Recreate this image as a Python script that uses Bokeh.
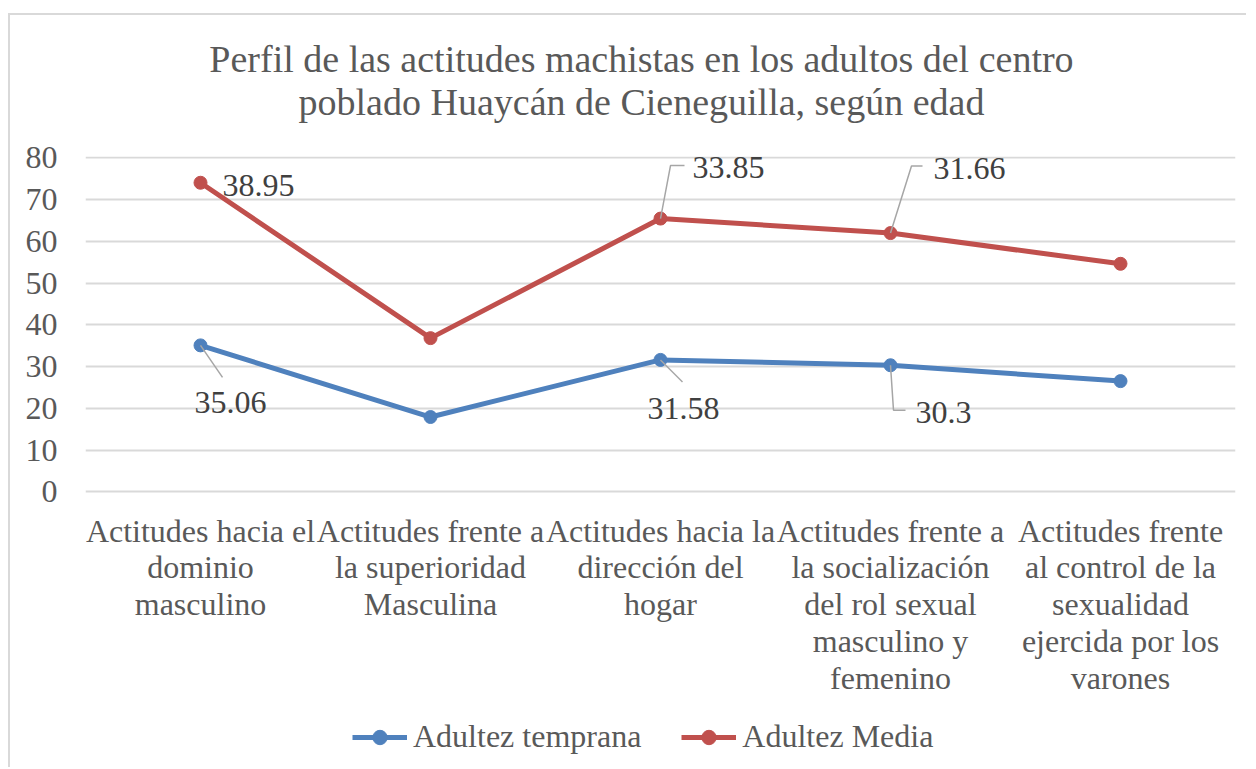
from bokeh.plotting import figure
from bokeh.models import Range1d, FixedTicker, Label, Legend, LegendItem, LinearAxis
from bokeh.embed import file_html
from bokeh.resources import INLINE

# ---------------- data ----------------
title_lines = ["Perfil de las actitudes machistas en los adultos del centro",
               "poblado Huaycán de Cieneguilla, según edad"]
category_lines = [
    ["Actitudes hacia el", "dominio", "masculino"],
    ["Actitudes frente a", "la superioridad", "Masculina"],
    ["Actitudes hacia la", "dirección del", "hogar"],
    ["Actitudes frente a", "la socialización", "del rol sexual", "masculino y", "femenino"],
    ["Actitudes frente", "al control de la", "sexualidad", "ejercida por los", "varones"],
]
series_names = ["Adultez temprana", "Adultez Media"]
temprana = [35.06, 17.9, 31.58, 30.3, 26.5]
media = [38.95, 18.9, 33.85, 31.66, 28.1]
y_ticks = [0, 10, 20, 30, 40, 50, 60, 70, 80]

# stacked line chart (Excel "stacked line")
media_stacked = [a + b for a, b in zip(temprana, media)]
xs = list(range(1, len(category_lines) + 1))

# ---------------- layout ----------------
W, H = 1238, 754
ML, MR, MT, MB = 75, 13, 141, 0
FW, FH = W - ML - MR, H - MT - MB
PX_PER_UNIT = 4.175          # vertical scale of the value axis
X0, X1 = 0.5, len(xs) + 0.5
Y1 = 80.3
Y0 = Y1 - FH / PX_PER_UNIT   # room below 0 for category labels and legend
TITLE_CX = 556               # px from plot-area left where the title is centred

BLUE = "#4F81BD"
RED = "#C0504D"
GREY_TXT = "#595959"
LBL_TXT = "#404040"
GRID = "#D9D9D9"
FONT = "'Liberation Serif', 'Times New Roman', Times, 'DejaVu Serif', serif"
FS = "32px"

def dxp(px):
    return px * (X1 - X0) / FW

def dyp(px):  # px downward -> data units
    return -px * (Y1 - Y0) / FH

p = figure(width=W, height=H, output_backend="svg", toolbar_location=None,
           x_range=Range1d(X0, X1), y_range=Range1d(Y0, Y1),
           min_border_left=ML, min_border_right=MR,
           min_border_top=MT, min_border_bottom=MB)
p.styles = {"margin-left": "8px", "margin-top": "13px",
            "border-left": "2px solid #D9D9D9", "border-top": "2px solid #D9D9D9"}
p.outline_line_color = None
p.background_fill_color = "white"
p.border_fill_color = "white"

# title (centred multi-line text placed above the plot area)
title_x = X0 + dxp(TITLE_CX)
title_axis = LinearAxis(ticker=FixedTicker(ticks=[title_x]),
                        major_label_overrides={title_x: "\n".join(title_lines)},
                        axis_line_color=None, major_tick_line_color=None,
                        minor_tick_line_color=None, major_tick_out=0, major_tick_in=0,
                        major_label_standoff=34,
                        major_label_text_font=FONT, major_label_text_font_size="38px",
                        major_label_text_color=GREY_TXT,
                        major_label_text_line_height=1.02)
p.add_layout(title_axis, "above")

# value axis
p.yaxis.ticker = FixedTicker(ticks=y_ticks)
p.yaxis.axis_line_color = None
p.yaxis.major_tick_line_color = None
p.yaxis.minor_tick_line_color = None
p.yaxis.major_tick_out = 0
p.yaxis.major_tick_in = 0
p.yaxis.major_label_standoff = 28
p.yaxis.major_label_text_font = FONT
p.yaxis.major_label_text_font_size = FS
p.yaxis.major_label_text_color = GREY_TXT

# category axis, pinned at value 0
xaxis = p.below[0]
xaxis.fixed_location = 0
xaxis.ticker = FixedTicker(ticks=xs)
xaxis.major_label_overrides = {x: "\n".join(lines) for x, lines in zip(xs, category_lines)}
xaxis.axis_line_color = None
xaxis.major_tick_line_color = None
xaxis.minor_tick_line_color = None
xaxis.major_tick_out = 0
xaxis.major_tick_in = 0
xaxis.major_label_standoff = 21
xaxis.major_label_text_font = FONT
xaxis.major_label_text_font_size = FS
xaxis.major_label_text_color = GREY_TXT
xaxis.major_label_text_line_height = 1.02

p.xgrid.grid_line_color = None
p.ygrid.ticker = FixedTicker(ticks=y_ticks)
p.ygrid.grid_line_color = GRID
p.ygrid.grid_line_width = 2

# series
l1 = p.line(xs, temprana, line_color=BLUE, line_width=5)
s1 = p.scatter(xs, temprana, size=13, fill_color=BLUE, line_color=BLUE)
l2 = p.line(xs, media_stacked, line_color=RED, line_width=5)
s2 = p.scatter(xs, media_stacked, size=13, fill_color=RED, line_color=RED)

# data labels: (values shown, plotted y, index, dx, dy, align, leader px path)
ann = [
    (media, media_stacked, 0, 22, 3, "left", None),
    (temprana, temprana, 0, 30, 57, "center", [(0, 0), (22, 32)]),
    (media, media_stacked, 2, 32, -51, "left", [(0, 0), (10, -53), (24, -53)]),
    (media, media_stacked, 3, 43, -65, "left", [(0, 0), (21, -67), (32, -67)]),
    (temprana, temprana, 2, 23, 49, "center", [(0, 0), (22, 22)]),
    (temprana, temprana, 3, 25, 47, "left", [(0, 0), (3, 45), (15, 45)]),
]
for vals, ys, i, dx, dy, align, path in ann:
    if path:
        p.line([xs[i] + dxp(a) for a, b in path], [ys[i] + dyp(b) for a, b in path],
               line_color="#A6A6A6", line_width=1.5)
    p.add_layout(Label(x=xs[i], y=ys[i], x_offset=dx, y_offset=-dy,
                       text=f"{vals[i]:g}", text_align=align, text_baseline="middle",
                       text_font=FONT, text_font_size=FS, text_color=LBL_TXT))

# legend (inside the lower part of the plot area)
legend = Legend(items=[LegendItem(label=series_names[0], renderers=[l1, s1]),
                       LegendItem(label=series_names[1], renderers=[l2, s2])],
                orientation="horizontal", location=(267, 14),
                glyph_width=55, glyph_height=36, label_height=36, label_width=228,
                label_standoff=6, spacing=40, padding=0, margin=0,
                label_text_font=FONT, label_text_font_size=FS,
                label_text_color=GREY_TXT, border_line_color=None,
                background_fill_alpha=0)
p.add_layout(legend)

open("out.html", "w").write(file_html(p, INLINE))
